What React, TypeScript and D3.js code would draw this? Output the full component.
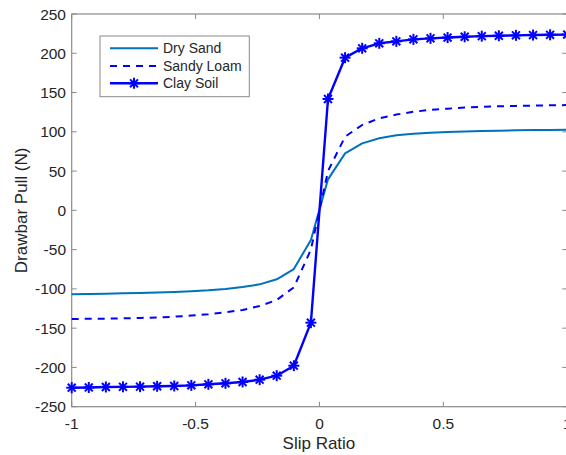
import React from "react";
import * as d3 from "d3";

const slip = [-1, -0.931, -0.8621, -0.7931, -0.7241, -0.6552, -0.5862, -0.5172, -0.4483, -0.3793, -0.3103, -0.2414, -0.1724, -0.1034, -0.0345, 0.0345, 0.1034, 0.1724, 0.2414, 0.3103, 0.3793, 0.4483, 0.5172, 0.5862, 0.6552, 0.7241, 0.7931, 0.8621, 0.931, 1];
const drySand = [-106.9, -106.5, -106.1, -105.7, -105.2, -104.6, -103.9, -103.0, -101.8, -100.1, -97.6, -94.2, -87.8, -74.7, -37.7, 39.5, 72.6, 85.3, 91.8, 95.5, 97.6, 98.9, 99.8, 100.5, 101.0, 101.5, 101.9, 102.2, 102.4, 102.6];
const sandyLoam = [-138.3, -138.1, -137.9, -137.5, -137.0, -136.3, -135.4, -134.0, -132.3, -129.8, -126.9, -121.8, -114.1, -98.0, -50.0, 50.0, 93.8, 108.7, 117.2, 122.0, 125.5, 128.0, 129.5, 130.8, 131.8, 132.5, 133.0, 133.4, 133.7, 134.0];
const claySoil = [-225.8, -225.5, -224.9, -224.7, -224.5, -224.0, -223.6, -222.8, -221.5, -220.2, -218.5, -215.6, -210.5, -197.8, -143.0, 141.8, 194.4, 206.3, 212.7, 215.2, 217.7, 219.0, 220.0, 221.0, 221.8, 222.3, 222.8, 223.2, 223.5, 223.8];
const xTicks = [-1, -0.5, 0, 0.5, 1];
const yTicks = [-250, -200, -150, -100, -50, 0, 50, 100, 150, 200, 250];
const seriesNames = ["Dry Sand", "Sandy Loam", "Clay Soil"];

const W = 566, H = 455;
const L = 71.7, R = 567.2, T = 14, B = 406.7;
const axisColor = "#8a8a8a";
const textColor = "#262626";
const FONT = "Helvetica, Arial, 'Liberation Sans', sans-serif";

function Asterisk({ x, y, r, color }: { x: number; y: number; r: number; color: string }) {
  const d = r * 0.72;
  return (
    <g stroke={color} strokeWidth={2}>
      <line x1={x - r} y1={y} x2={x + r} y2={y} />
      <line x1={x} y1={y - r} x2={x} y2={y + r} />
      <line x1={x - d} y1={y - d} x2={x + d} y2={y + d} />
      <line x1={x - d} y1={y + d} x2={x + d} y2={y - d} />
    </g>
  );
}

export default function App() {
  const x = d3.scaleLinear().domain([-1, 1]).range([L, R]);
  const y = d3.scaleLinear().domain([-250, 250]).range([B, T]);
  const line = d3
    .line<number>()
    .x((_, i) => x(slip[i]))
    .y((v) => y(v));

  const styles = [
    { color: "#0072BD", dash: undefined as string | undefined, width: 2, marker: false },
    { color: "#0000FF", dash: "7,6", width: 2, marker: false },
    { color: "#0000FF", dash: undefined, width: 2.4, marker: true },
  ];
  const data = [drySand, sandyLoam, claySoil];

  const legendRows = [48.3, 66, 83.3];

  return (
    <svg
      width={W}
      height={H}
      style={{ position: "fixed", left: 0, top: 0, background: "#fff" }}
      fontFamily={FONT}
    >
      <rect x={0} y={0} width={W} height={H} fill="#fff" />
      <rect x={L} y={T} width={R - L} height={B - T} fill="none" stroke={axisColor} strokeWidth={1.2} />
      {xTicks.map((t) => (
        <g key={"x" + t}>
          <line x1={x(t)} x2={x(t)} y1={B} y2={B - 5} stroke={axisColor} strokeWidth={1} />
          <line x1={x(t)} x2={x(t)} y1={T} y2={T + 5} stroke={axisColor} strokeWidth={1} />
          <text x={x(t)} y={428.5} textAnchor="middle" fontSize={15.5} fill={textColor}>
            {String(t)}
          </text>
        </g>
      ))}
      {yTicks.map((t) => (
        <g key={"y" + t}>
          <line x1={L} x2={L + 5} y1={y(t)} y2={y(t)} stroke={axisColor} strokeWidth={1} />
          <line x1={R} x2={R - 5} y1={y(t)} y2={y(t)} stroke={axisColor} strokeWidth={1} />
          <text x={66} y={y(t)} dy="0.36em" textAnchor="end" fontSize={15.5} fill={textColor}>
            {String(t)}
          </text>
        </g>
      ))}
      <text x={(L + R) / 2 - 0.5} y={449} textAnchor="middle" fontSize={17} fill={textColor}>
        Slip Ratio
      </text>
      <text
        transform={`translate(26.5, ${(T + B) / 2}) rotate(-90)`}
        textAnchor="middle"
        fontSize={17}
        fill={textColor}
      >
        Drawbar Pull (N)
      </text>
      {data.map((vals, si) => (
        <g key={"s" + si}>
          <path
            d={line(vals) || ""}
            fill="none"
            stroke={styles[si].color}
            strokeWidth={styles[si].width}
            strokeDasharray={styles[si].dash}
            strokeLinejoin="round"
          />
          {styles[si].marker &&
            vals.map((v, i) => (
              <Asterisk key={i} x={x(slip[i])} y={y(v)} r={5.5} color={styles[si].color} />
            ))}
        </g>
      ))}
      <rect x={100} y={36} width={149.3} height={60.7} fill="#fff" stroke={axisColor} strokeWidth={1} />
      {seriesNames.map((name, i) => (
        <g key={"l" + name}>
          <line
            x1={110}
            x2={158}
            y1={legendRows[i]}
            y2={legendRows[i]}
            stroke={styles[i].color}
            strokeWidth={styles[i].width}
            strokeDasharray={styles[i].dash}
          />
          {styles[i].marker && <Asterisk x={134} y={legendRows[i]} r={5.5} color={styles[i].color} />}
          <text x={163} y={legendRows[i]} dy="0.36em" fontSize={14} fill={textColor}>
            {name}
          </text>
        </g>
      ))}
    </svg>
  );
}
